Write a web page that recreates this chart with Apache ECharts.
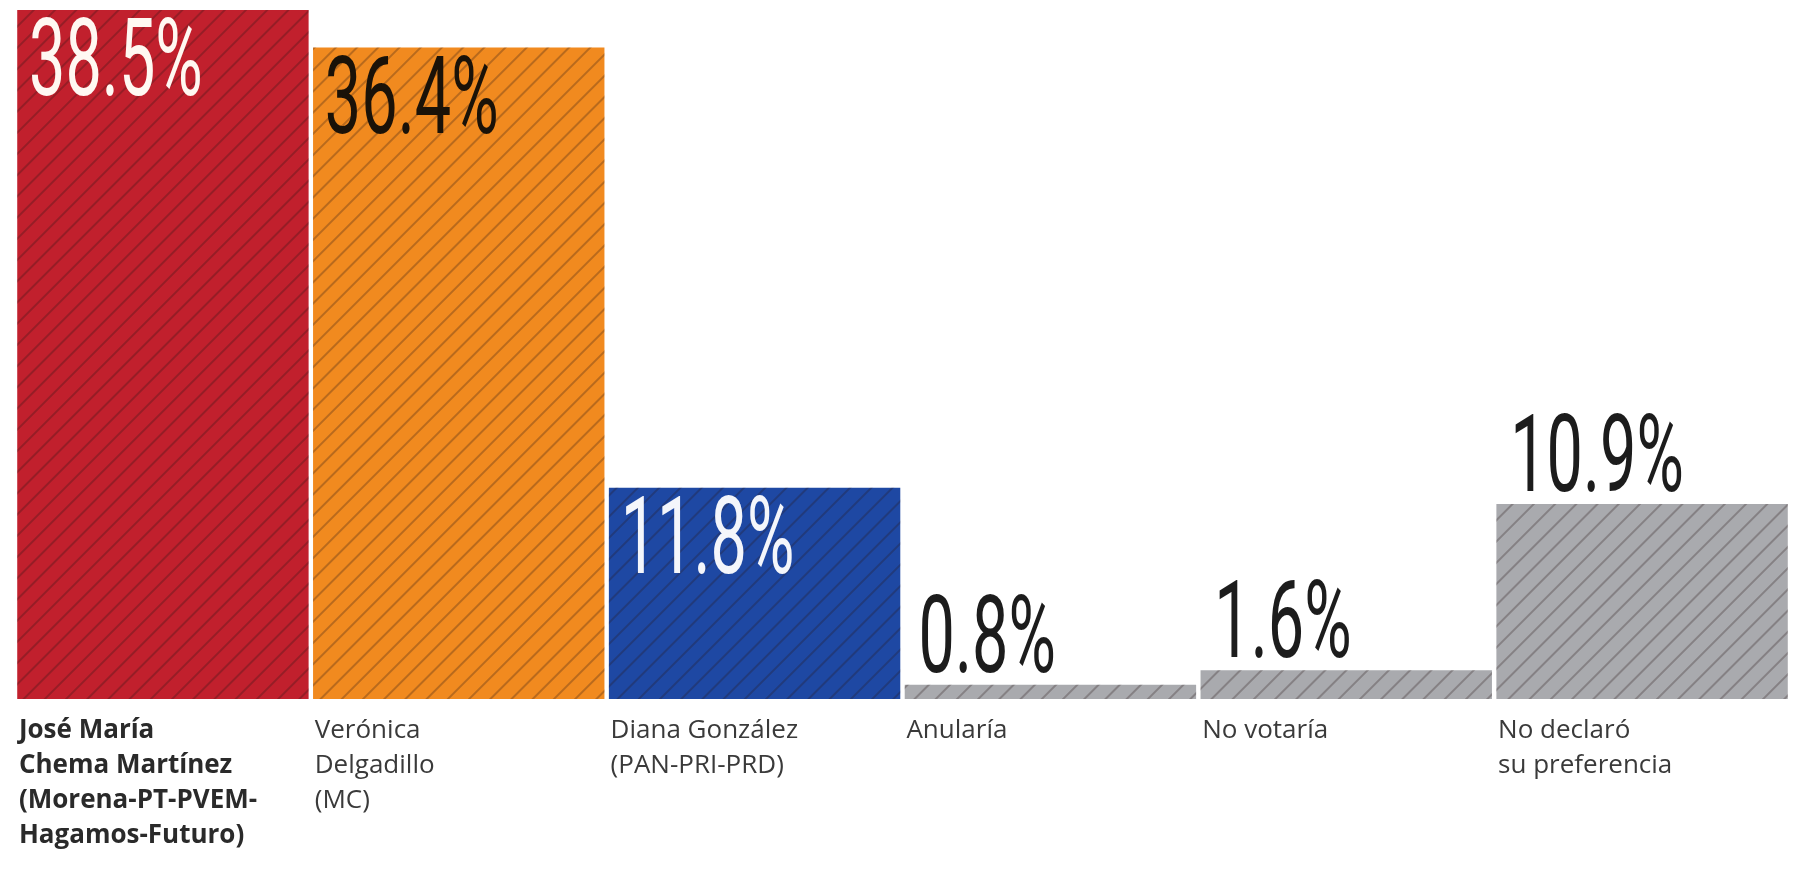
<!DOCTYPE html>
<html>
<head>
<meta charset="utf-8">
<script src="https://cdn.jsdelivr.net/npm/echarts@6/dist/echarts.min.js"></script>
<style>
html,body{margin:0;padding:0;background:#fff;}
#chart{width:1811px;height:871px;}
</style>
</head>
<body>
<div id="chart"></div>
<script>
const categories = [
  "José María\nChema Martínez\n(Morena-PT-PVEM-\nHagamos-Futuro)",
  "Verónica\nDelgadillo\n(MC)",
  "Diana González\n(PAN-PRI-PRD)",
  "Anularía",
  "No votaría",
  "No declaró\nsu preferencia"
];
const values = [38.5, 36.4, 11.8, 0.8, 1.6, 10.9];
const valueLabels = ["38.5%", "36.4%", "11.8%", "0.8%", "1.6%", "10.9%"];
const barColors = ["#C1202D", "#F18A1F", "#1E48A3", "#A9AAAE", "#A9AAAE", "#A9AAAE"];
const labelColors = ["#FFF8F2", "#1A1208", "#F4F6FB", "#1c1c1c", "#1c1c1c", "#1c1c1c"];
const labelInside = [true, true, true, false, false, false];

const chart = echarts.init(document.getElementById('chart'), null, {renderer: 'canvas'});

const hatch = {
  symbol: 'rect',
  symbolSize: 1,
  dashArrayX: [1, 0],
  dashArrayY: [1.5, 13],
  rotation: -Math.PI / 4,
  color: 'rgba(40,20,20,0.28)'
};

const option = {
  animation: false,
  backgroundColor: '#ffffff',
  grid: {left: 15, right: 21, top: 10, bottom: 172, containLabel: false},
  xAxis: {
    type: 'category',
    data: categories,
    axisLine: {show: false},
    axisTick: {show: false},
    axisLabel: {
      interval: 0,
      margin: 14,
      align: 'center',
      verticalAlign: 'top',
      formatter: function (v, i) {
        const st = i === 0 ? 'b' : 'r';
        return v.split('\n').map(function (l) { return '{' + st + '|' + l + '}'; }).join('\n');
      },
      rich: {
        b: {width: 288, align: 'left', fontFamily: 'Open Sans', fontWeight: 'bold', fontSize: 26, lineHeight: 35, color: '#2a2a2a'},
        r: {width: 288, align: 'left', fontFamily: 'Open Sans', fontWeight: 'normal', fontSize: 26, lineHeight: 35, color: '#3a3a3a'}
      }
    }
  },
  yAxis: {
    type: 'value', min: 0, max: 38.5,
    show: false,
    splitLine: {show: false}
  },
  series: [
    {
      type: 'bar',
      z: 2,
      barCategoryGap: '1.5%',
      data: values.map(function (v, i) {
        return {value: v, itemStyle: {color: barColors[i], decal: hatch}};
      }),
      silent: true
    },
    {
      type: 'custom',
      z: 20,
      zlevel: 1,
      clip: false,
      silent: true,
      data: values.map(function (v, i) { return [i, v]; }),
      encode: {x: 0, y: 1},
      renderItem: function (params, api) {
        const i = params.dataIndex;
        const top = api.coord([api.value(0), api.value(1)]);
        const band = api.size([1, 0])[0];
        const left = top[0] - band / 2;
        const inside = labelInside[i];
        return {
          type: 'text',
          z2: 100,
          x: left + (inside ? 14 : 16),
          y: inside ? top[1] + 4 : top[1] + 14,
          scaleX: 0.6,
          style: {
            text: valueLabels[i],
            fontFamily: 'Roboto',
            fontSize: 108,
            fill: labelColors[i],
            align: 'left',
            verticalAlign: inside ? 'top' : 'bottom'
          }
        };
      }
    }
  ]
};
chart.setOption(option);
</script>
</body>
</html>
